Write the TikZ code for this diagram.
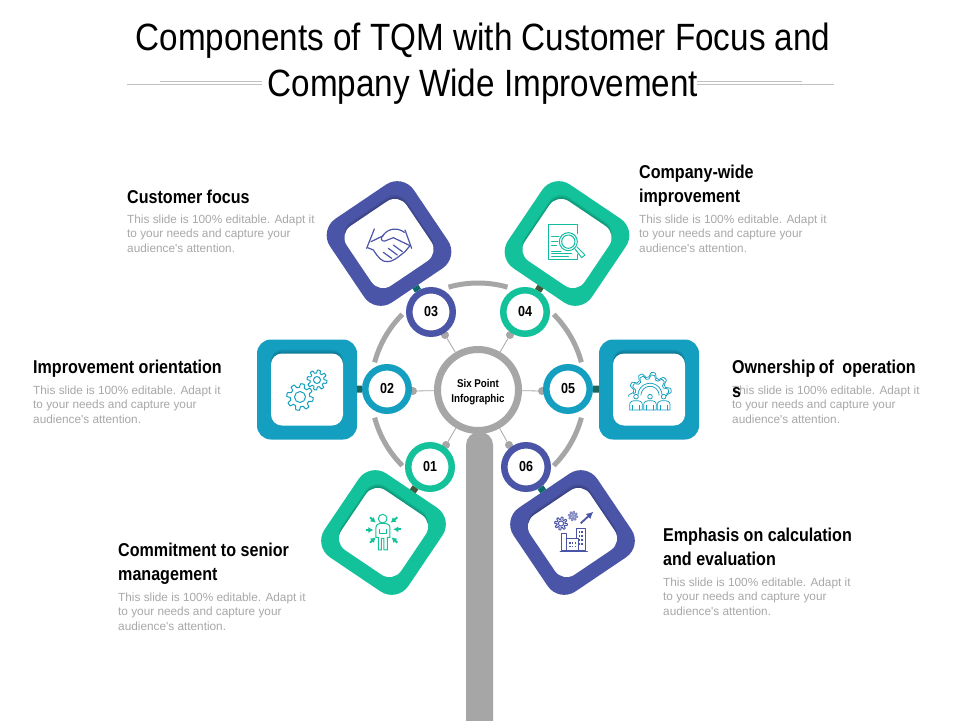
\documentclass[tikz,border=0pt]{standalone}
\usepackage{fontspec}
\usetikzlibrary{arrows.meta}
\setmainfont{Liberation Sans}
\newfontfamily\titlef{Liberation Sans}[FakeStretch=0.875]
\newfontfamily\headf{Liberation Sans}[FakeStretch=0.865]
\newfontfamily\bodyf{Liberation Sans}
\definecolor{cblue}{HTML}{4B55A8}
\definecolor{cgreen}{HTML}{13C29B}
\definecolor{cteal}{HTML}{149FC1}
\definecolor{cgray}{HTML}{A6A6A6}
\definecolor{ctext}{HTML}{A8A8A8}
\definecolor{cdteal}{HTML}{0D6A6A}
\definecolor{colive}{HTML}{3C5A3A}
\tikzset{
  framebox/.style={fill=#1,minimum size=101pt,inner sep=0pt,outer sep=0pt,rounded corners=20pt,rectangle},
  framestraight/.style={fill=#1,minimum size=100pt,inner sep=0pt,outer sep=0pt,rounded corners=14pt,rectangle},
  innerbox/.style={fill=white,minimum size=72pt,inner sep=0pt,outer sep=0pt,rounded corners=#1,rectangle},
  shadebox/.style={fill=black,opacity=.06,minimum size=72pt,inner sep=0pt,outer sep=0pt,rounded corners=#1,rectangle},
  numcircle/.style={circle,draw=#1,line width=6.5pt,fill=white,minimum size=43.5pt,inner sep=0pt,font=\headf\bfseries\fontsize{14.5}{16}\selectfont},
  hubnode/.style={circle,draw=cgray,line width=7pt,fill=white,minimum size=81pt,inner sep=0pt,align=center,font=\headf\bfseries\fontsize{11.3}{14.5}\selectfont},
  dotnode/.style={circle,fill=cgray,minimum size=8pt,inner sep=0pt},
  spoke/.style={draw=cgray,line width=0.8pt},
  ringarc/.style={draw=cgray,line width=5pt},
  linkbar/.style={draw=#1,line width=7pt},
  titletext/.style={font=\titlef\fontsize{38}{45}\selectfont,inner sep=0pt},
  headtext/.style={anchor=north west,inner sep=0pt,align=left,font=\headf\bfseries\fontsize{18.6}{24}\selectfont},
  bodytext/.style={anchor=north west,inner sep=0pt,align=left,text=ctext,font=\bodyf\fontsize{11.8}{14.5}\selectfont},
  icon/.style={draw=#1,line width=1pt,line cap=round,line join=round},
  zoomed/.style={shift={#1},x=0.3333pt,y=-0.3333pt},
}
\newcommand{\tqmgear}[5]{% x y radius toothdepth colour
  \draw[icon=#5] plot[domain=0:360,samples=121] ({#1+(#3+#4*max(-1,min(1,2.5*sin(8*\x))))*cos(\x)},{#2+(#3+#4*max(-1,min(1,2.5*sin(8*\x))))*sin(\x)}) -- cycle;
}
\newcommand{\tqmframe}[7]{% name x y rot colour style inner radius
  \node[#6=#5,rotate=#4] (f#1) at (#2,#3) {};
  \foreach \s in {1,2,3,4}{\node[shadebox=#7,rotate=#4] at (#2,#3-\s) {};}
  \node[innerbox=#7,rotate=#4] (i#1) at (#2,#3) {};
}
\begin{document}
\begin{tikzpicture}[x=1pt,y=-1pt]
\useasboundingbox (0,0) rectangle (960,720);
\fill[white] (0,0) rectangle (960,720);

% title
\node[titletext] (t1) at (483,41) {Components of TQM with Customer Focus and};
\node[titletext] (t2) at (483,87) {Company Wide Improvement};
\coordinate (rl1) at (127,84); \coordinate (rl2) at (262,84);
\coordinate (rr1) at (697,84); \coordinate (rr2) at (834,84);
\draw[cgray!70,line width=.6pt] (rl1) -- (rl2);
\draw[cgray!70,line width=.6pt] (rr1) -- (rr2);
\draw[cgray!70,line width=.6pt] (160,81.5) -- (262,81.5);
\draw[cgray!70,line width=.6pt] (697,81.5) -- (802,81.5);

% stem, arcs
\fill[cgray,rounded corners=13pt] (466,725) -- (466,432) -- (493,432) -- (493,725);
\foreach \a/\b in {74/106,15/45,135/165,195/225,315/345}{
  \draw[ringarc] plot[domain=\a:\b,samples=24] ({478+107*cos(\x)},{390-107*sin(\x)});
}

% hub
\node[hubnode] (hub) at (478,390) {\rule{0pt}{12pt}Six Point\\Infographic};

% dots
\node[dotnode] (d1) at (446,445) {};
\node[dotnode] (d2) at (413,391) {};
\node[dotnode] (d3) at (445,335) {};
\node[dotnode] (d4) at (510,335) {};
\node[dotnode] (d5) at (542,391) {};
\node[dotnode] (d6) at (509,445) {};

% frames
\tqmframe{1}{383.5}{532.5}{-34}{cgreen}{framebox}{14pt}
\tqmframe{2}{307}{389.5}{0}{cteal}{framestraight}{11pt}
\tqmframe{3}{389}{243.5}{34}{cblue}{framebox}{14pt}
\tqmframe{4}{567}{243.5}{-34}{cgreen}{framebox}{14pt}
\tqmframe{5}{649}{389.5}{0}{cteal}{framestraight}{11pt}
\tqmframe{6}{572.5}{532.5}{34}{cblue}{framebox}{14pt}

% numbered circles
\node[numcircle=cgreen] (c1) at (430,467) {01};
\node[numcircle=cteal]  (c2) at (387,389) {02};
\node[numcircle=cblue]  (c3) at (431,312) {03};
\node[numcircle=cgreen] (c4) at (525,312) {04};
\node[numcircle=cteal]  (c5) at (568,389) {05};
\node[numcircle=cblue]  (c6) at (526,467) {06};

% connectors
\draw[linkbar=colive] (f1) -- (c1);
\draw[linkbar=cdteal!70!colive] (f2) -- (c2);
\draw[linkbar=cdteal] (f3) -- (c3);
\draw[linkbar=colive] (f4) -- (c4);
\draw[linkbar=cdteal!70!colive] (f5) -- (c5);
\draw[linkbar=cdteal] (f6) -- (c6);
\draw[spoke] (hub) -- (d1);
\draw[spoke] (hub) -- (d2);
\draw[spoke] (hub) -- (d3);
\draw[spoke] (hub) -- (d4);
\draw[spoke] (hub) -- (d5);
\draw[spoke] (hub) -- (d6);

% handshake
\begin{scope}[zoomed={(355,215)}]
\draw[icon=cblue,line width=1.2pt] (58,42) -- (35,100);
\draw[icon=cblue,line width=1.2pt] (150,45) -- (170,100);
\draw[icon=cblue,line width=1.2pt] (38,98) -- (55,105) .. controls (68,125) and (80,142) .. (98,140) .. controls (112,140) and (125,130) .. (150,110) -- (165,92) -- (115,68) -- (90,78) .. controls (78,80) and (75,70) .. (85,60) .. controls (98,42) and (125,35) .. (148,52);
\draw[icon=cblue,line width=1.2pt] (48,80) -- (85,62);
\draw[icon=cblue,line width=1.2pt] (85,112) -- (110,130);
\draw[icon=cblue,line width=1.2pt] (100,100) -- (127,120);
\draw[icon=cblue,line width=1.2pt] (115,90) -- (142,110);
\end{scope}

% document and magnifier
\begin{scope}[zoomed={(535,215)}]
\draw[icon=cgreen!80!cteal] (128,56) -- (128,28) -- (40,28) -- (40,135) -- (128,135) -- (128,118);
\draw[icon=cgreen!80!cteal] (100,80) circle[x radius=27,y radius=27];
\draw[icon=cgreen!80!cteal] (100,80) circle[x radius=20,y radius=20];
\draw[icon=cgreen!80!cteal] (120,102) -- (140,128) -- (150,120) -- (126,96);
\foreach \xa/\xb/\ya in {50/72/65,50/68/78,50/65/92,50/78/108,50/110/116,50/100/126}{
  \draw[icon=cgreen!80!cteal] (\xa,\ya) -- (\xb,\ya);
}
\end{scope}

% gears
\tqmgear{300}{397}{11.5}{1.8}{cteal}
\draw[icon=cteal] (300,397) circle[x radius=5.5,y radius=5.5];
\tqmgear{317}{380}{8.5}{1.5}{cteal}
\draw[icon=cteal] (317,380) circle[x radius=3.5,y radius=3.5];

% gear with people
\begin{scope}[zoomed={(620,360)},icon/.append style={line width=.75pt}]
\draw[icon=cteal] plot[domain=-8:188,samples=120] ({90+(57+7*max(-1,min(1,1.6*sin(10*\x))))*cos(\x)},{101-(57+7*max(-1,min(1,1.6*sin(10*\x))))*sin(\x)});
\draw[icon=cteal] plot[domain=0:180,samples=120] ({90+(50+6*max(-1,min(1,1.6*sin(10*\x))))*cos(\x)},{101-(50+6*max(-1,min(1,1.6*sin(10*\x))))*sin(\x)});
\draw[icon=cteal] plot[domain=0:180,samples=40] ({90+36*cos(\x)},{106-36*sin(\x)});
\draw[icon=cteal] plot[domain=0:180,samples=40] ({90+27*cos(\x)},{106-27*sin(\x)});
\foreach \px in {48,90,131}{
  \draw[icon=cteal] (\px,110) circle[x radius=7,y radius=7];
  \draw[icon=cteal] (\px-19,150) -- (\px-19,134) .. controls (\px-19,124) and (\px-10,122) .. (\px,122) .. controls (\px+10,122) and (\px+19,124) .. (\px+19,134) -- (\px+19,150) -- cycle;
  \draw[icon=cteal] (\px-10,150) -- (\px-10,136);
  \draw[icon=cteal] (\px+10,150) -- (\px+10,136);
}
\end{scope}

% person with arrows
\begin{scope}[zoomed={(310,430)}]
\draw[icon=cgreen] (218,266) circle[x radius=13,y radius=13];
\draw[icon=cgreen] (198,322) -- (198,292) .. controls (198,282) and (208,280) .. (218,280) .. controls (228,280) and (240,282) .. (240,292) -- (240,322) -- (232,322) -- (232,360) -- (222,360) -- (222,325) -- (214,325) -- (214,360) -- (205,360) -- (205,322) -- cycle;
\draw[icon=cgreen] (208,298) -- (208,310) -- (230,310) -- (230,298);
\foreach \xa/\ya/\xb/\yb in {168/300/190/300,272/298/250/298,180/262/197/278,262/262/242/278,180/338/197/322,262/338/245/322}{
  \draw[cgreen,line width=2pt,-{Latex[length=5pt,width=6pt]}] (\xa,\ya) -- (\xb,\yb);
}
\end{scope}

% gears, buildings, arrow
\begin{scope}[zoomed={(550,505)}]
\draw[cblue,line width=1.8pt,-{Latex[length=7pt,width=7pt]}] (92,55) -- (130,20);
\draw[icon=cblue] (30,140) -- (112,140);
\draw[icon=cblue] (35,135) -- (35,85) -- (50,85) -- (50,135);
\draw[icon=cblue] (50,100) -- (85,100) -- (85,135);
\draw[icon=cblue] (80,100) -- (80,70) -- (105,70) -- (105,135) -- (35,135);
\foreach \wx in {58,66,74}{\foreach \wy in {112,122}{\fill[cblue] (\wx,\wy) rectangle (\wx+4,\wy+5);}}
\foreach \wx in {87,94}{\foreach \wy in {78,90,102,114}{\fill[cblue] (\wx,\wy) rectangle (\wx+4,\wy+6);}}
\end{scope}
\tqmgear{561}{523.5}{5.2}{1.2}{cblue}
\draw[icon=cblue] (561,523.5) circle[x radius=2.6,y radius=2.6];
\tqmgear{573}{516}{3.6}{1}{cblue!70}
\draw[icon=cblue!70] (573,516) circle[x radius=1.6,y radius=1.6];

% labels
\node[headtext] (h3) at (127,190) {Customer focus};
\node[bodytext] (b3) at (127,214.5) {This slide is 100\% editable. Adapt it\\to your needs and capture your\\audience's attention.};
\node[headtext] (h4) at (639,165) {Company-wide\\improvement};
\node[bodytext] (b4) at (639,214.5) {This slide is 100\% editable. Adapt it\\to your needs and capture your\\audience's attention.};
\node[headtext] (h2) at (33,360) {Improvement orientation};
\node[bodytext] (b2) at (33,385.5) {This slide is 100\% editable. Adapt it\\to your needs and capture your\\audience's attention.};
\node[bodytext] (b5) at (732,385.5) {This slide is 100\% editable. Adapt it\\to your needs and capture your\\audience's attention.};
\node[headtext] (h5) at (732,360) {Ownership\hspace{-1pt} of\hspace{4pt} operation\\s};
\node[headtext] (h6) at (663,528) {Emphasis on calculation\\and evaluation};
\node[bodytext] (b6) at (663,577.5) {This slide is 100\% editable. Adapt it\\to your needs and capture your\\audience's attention.};
\node[headtext] (h1) at (118,543) {Commitment to senior\\management};
\node[bodytext] (b1) at (118,592.5) {This slide is 100\% editable. Adapt it\\to your needs and capture your\\audience's attention.};
\end{tikzpicture}
\end{document}
